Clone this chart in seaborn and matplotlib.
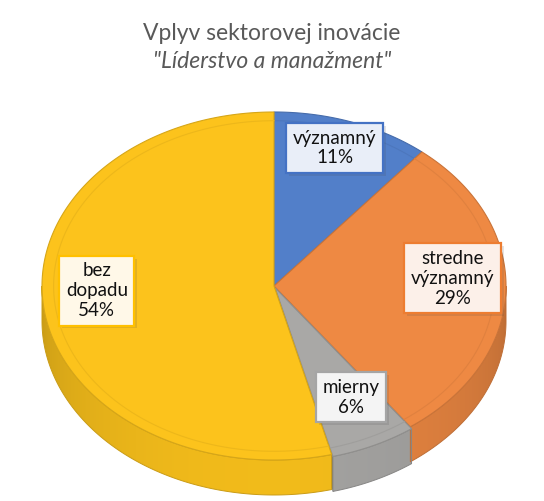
import numpy as np
import seaborn as sns
import matplotlib.pyplot as plt
from matplotlib.patches import Polygon
import matplotlib.patheffects as pe

sns.set_theme(style="white")
plt.rcParams['font.family'] = ['Lato', 'DejaVu Sans']

# data
categories = ["významný", "stredne\nvýznamný", "mierny", "bez\ndopadu"]
shares = [11, 29, 6, 54]
colors = ["#527FC9", "#EE8943", "#A9A8A6", "#FCC31C"]
edge_colors = ["#4472C4", "#ED7D31", "#A5A5A5", "#FFC000"]
box_fills = ["#E9EEF8", "#FCF0E9", "#F4F4F4", "#FFF8E8"]
explode = [0.0, 0.0, 0.012, 0.0]

# geometry of the fake 3D pie (pixel units)
CX, CY = 274, 286
RX, RY = 232, 174
DEPTH = 35


def shade(color, f):
    rgb = np.array(plt.matplotlib.colors.to_rgb(color))
    return tuple(np.clip(rgb * f, 0, 1))


def pt(t, r=1.0, off=(0, 0), dz=0):
    t = np.radians(t)
    return (CX + off[0] + r * RX * np.sin(t),
            CY + off[1] - r * RY * np.cos(t) + dz)


fig = plt.figure(figsize=(5.44, 5.01), dpi=100)
ax = fig.add_axes([0, 0, 1, 1])
ax.set_xlim(0, 544)
ax.set_ylim(501, 0)
ax.axis("off")

total = sum(shares)
bounds = np.cumsum([0] + shares) / total * 360
slices = []
for i, (a, b) in enumerate(zip(bounds[:-1], bounds[1:])):
    mid = (a + b) / 2
    m = np.radians(mid)
    off = (explode[i] * RX * np.sin(m), -explode[i] * RY * np.cos(m))
    slices.append((a, b, mid, off))

# radial walls
for i, (a, b, mid, off) in enumerate(slices):
    for t in (a, b):
        ax.add_patch(Polygon([pt(0, 0, off), pt(t, 1, off),
                              pt(t, 1, off, DEPTH), pt(0, 0, off, DEPTH)],
                             closed=True, fc=shade(colors[i], 0.55),
                             ec="none", zorder=1))

# outer walls with a horizontal light gradient
xs = np.linspace(CX - RX, CX + RX, 400)
light = 0.80 + 0.16 * np.sqrt(np.clip(1 - ((xs - CX) / RX) ** 2, 0, 1))
for i, (a, b, mid, off) in enumerate(slices):
    lo, hi = max(a, 90), min(b, 270)
    if lo >= hi:
        continue
    ts = np.linspace(lo, hi, 150)
    outline = [pt(t, 1, off) for t in ts] + \
        [pt(t, 1, off, DEPTH) for t in ts[::-1]]
    wall = Polygon(outline, closed=True, fc="none",
                   ec=shade(colors[i], 0.8), lw=0.7, zorder=2)
    ax.add_patch(wall)
    rgb = np.array([shade(colors[i], f) for f in light])[None, :, :]
    im = ax.imshow(rgb, extent=(xs[0] + off[0], xs[-1] + off[0],
                                CY + RY + DEPTH + 10, CY - 10),
                   aspect="auto", zorder=1.9, interpolation="bilinear")
    im.set_clip_path(wall)

# top faces
for i, (a, b, mid, off) in enumerate(slices):
    ts = np.linspace(a, b, 200)
    poly = [pt(0, 0, off)] + [pt(t, 1, off) for t in ts]
    ax.add_patch(Polygon(poly, closed=True, fc=colors[i],
                         ec=shade(colors[i], 0.85), lw=0.8, zorder=3))
    # subtle bevel ring
    ax.plot(*zip(*[pt(t, 0.95, off) for t in ts]),
            color=shade(colors[i], 0.94), lw=0.8, zorder=3)

ax.set_xlim(0, 544)
ax.set_ylim(501, 0)

# labels
for i, (a, b, mid, off) in enumerate(slices):
    x, y = pt(mid, 0.77, off)
    txt = ax.text(x, y - 12, f"{categories[i]}\n{shares[i]}%", ha="center",
                  va="center", fontsize=13.5, color="#111111",
                  linespacing=1.2, zorder=5,
                  bbox=dict(boxstyle="square,pad=0.35", fc=box_fills[i],
                            ec=edge_colors[i], lw=1.6))
    txt.get_bbox_patch().set_path_effects(
        [pe.SimplePatchShadow(offset=(2, -2), alpha=0.15), pe.Normal()])

fig.text(0.5, 1 - 33 / 501, "Vplyv sektorovej inovácie", ha="center",
         va="center", fontsize=16.5, color="#595959")
fig.text(0.5, 1 - 61 / 501, "\"Líderstvo a manažment\"", ha="center",
         va="center", fontsize=16.5, color="#595959", style="italic")

fig.savefig("out.png", dpi=100)
